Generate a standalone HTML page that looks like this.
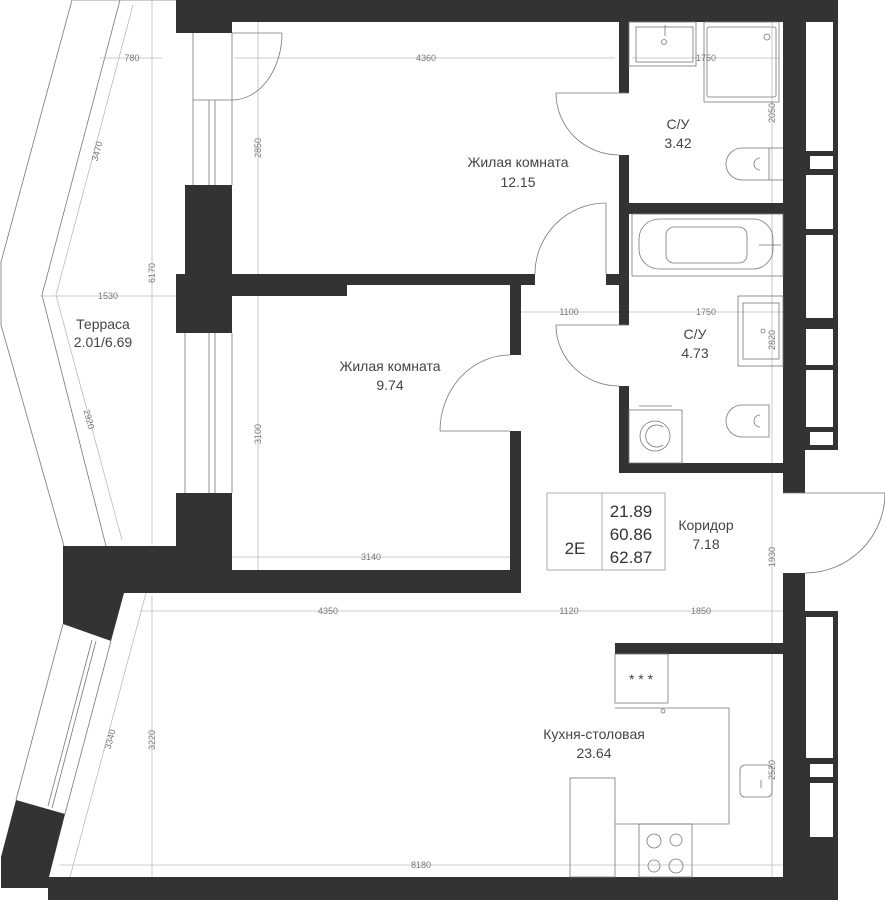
<!DOCTYPE html>
<html><head><meta charset="utf-8"><style>
html,body{margin:0;padding:0;background:#fff;}
svg{display:block;font-family:"Liberation Sans","DejaVu Sans",sans-serif;}
.d{stroke:#bbb;stroke-width:0.8;fill:none}
.l{stroke:#777;stroke-width:0.8;fill:none}
.dt{font-size:9px;fill:#777;text-anchor:middle}
.lb{font-size:14px;fill:#444;text-anchor:middle}
.big{font-size:17px;fill:#333;text-anchor:middle}
</style></head><body>
<svg width="885" height="900" viewBox="0 0 885 900" xmlns="http://www.w3.org/2000/svg">
<polyline class="l" points="72,0 1,262 1,325 64,546"/>
<polyline class="l" points="120,0 42,295 106,546"/>
<polyline class="d" points="133,5 56,295 122,540"/>
<line class="l" x1="72" y1="0" x2="176" y2="0"/>
<g class="d">
<line x1="100" y1="58" x2="162" y2="58"/><line x1="234" y1="58" x2="615" y2="58"/><line x1="632" y1="58" x2="779" y2="58"/>
<line x1="152" y1="0" x2="152" y2="545"/><line x1="152" y1="596" x2="152" y2="877"/>
<line x1="258" y1="22" x2="258" y2="274"/><line x1="258" y1="285" x2="258" y2="570"/>
<line x1="40" y1="296" x2="176" y2="296"/>
<line x1="521" y1="312" x2="619" y2="312"/><line x1="629" y1="312" x2="783" y2="312"/>
<line x1="772" y1="22" x2="772" y2="203"/><line x1="772" y1="214" x2="772" y2="463"/><line x1="772" y1="473" x2="772" y2="643"/><line x1="772" y1="654" x2="772" y2="877"/>
<line x1="140" y1="611" x2="783" y2="611"/>
<line x1="60" y1="865" x2="783" y2="865"/>
<line x1="232" y1="557" x2="510" y2="557"/>
<line x1="146" y1="593" x2="70" y2="877"/>
</g>
<g class="l">
<line x1="193" y1="33" x2="193" y2="185"/><line x1="232" y1="33" x2="232" y2="185"/>
<line x1="209" y1="100" x2="209" y2="185"/><line x1="215" y1="100" x2="215" y2="185"/>
<line x1="193" y1="100" x2="232" y2="100"/>
<line x1="185" y1="333" x2="185" y2="493"/><line x1="232" y1="333" x2="232" y2="493"/>
<line x1="209" y1="333" x2="209" y2="493"/><line x1="215" y1="333" x2="215" y2="493"/>
<polyline points="63,624 16,800"/><polyline points="111,641 65,814"/>
<polyline points="92,640 48,806"/><polyline points="96,641 52,808"/>
</g>
<g fill="#333">
<rect x="176" y="0" width="662" height="22"/>
<rect x="176" y="0" width="56" height="33"/>
<rect x="783" y="22" width="22" height="471"/>
<rect x="805" y="0" width="33" height="450"/>
<rect x="783" y="573" width="22" height="327"/>
<rect x="805" y="611" width="33" height="289"/>
<rect x="48" y="877" width="790" height="23"/>
<rect x="185" y="185" width="47" height="89"/>
<rect x="176" y="274" width="56" height="59"/>
<rect x="232" y="274" width="303" height="11"/>
<rect x="232" y="274" width="115" height="22"/>
<rect x="606" y="274" width="23" height="11"/>
<rect x="619" y="22" width="10" height="71"/>
<rect x="619" y="155" width="10" height="170"/>
<rect x="619" y="386" width="10" height="87"/>
<rect x="619" y="463" width="164" height="10"/>
<rect x="619" y="203" width="164" height="11"/>
<rect x="510" y="285" width="11" height="70"/>
<rect x="510" y="431" width="11" height="162"/>
<rect x="176" y="493" width="56" height="53"/>
<rect x="232" y="570" width="289" height="23"/>
<polygon points="63,546 232,546 232,593 124,593 111,641 63,624"/>
<polygon points="16,800 65,814 49,877 49,888 1,888 1,857"/>
<rect x="615" y="643" width="168" height="11"/>
</g>
<g fill="#fff">
<rect x="806" y="22" width="27" height="129"/><rect x="810" y="156" width="23" height="13"/>
<rect x="806" y="175" width="27" height="54"/><rect x="806" y="235" width="27" height="83"/>
<rect x="806" y="329" width="27" height="36"/><rect x="806" y="370" width="27" height="57"/>
<rect x="810" y="432" width="23" height="13"/>
<rect x="806" y="617" width="27" height="141"/><rect x="810" y="764" width="23" height="13"/>
<rect x="810" y="783" width="23" height="54"/>
</g>
<g class="l">
<line x1="232" y1="33" x2="282" y2="33"/><path d="M282,33 A50,67 0 0 1 232,100"/>
<line x1="556" y1="93" x2="629" y2="93"/><path d="M556,93 A63,62 0 0 0 619,155"/>
<line x1="606" y1="203" x2="606" y2="274"/><path d="M606,203 A71,71 0 0 0 535,274"/>
<line x1="556" y1="325" x2="629" y2="325"/><path d="M556,325 A63,61 0 0 0 619,386"/>
<line x1="440" y1="431" x2="510" y2="431"/><path d="M440,431 A70,76 0 0 1 510,355"/>
<line x1="783" y1="493" x2="885" y2="493"/><path d="M885,493 A80,80 0 0 1 805,573"/>
</g>
<g class="l">
<rect x="629" y="22" width="67" height="44"/><rect x="636" y="27" width="57" height="35"/>
<circle cx="664" cy="42" r="2.5"/><line x1="665" y1="25" x2="665" y2="36"/>
<rect x="704" y="22" width="75" height="80"/><rect x="707" y="27" width="69" height="70" rx="2"/>
<circle cx="767" cy="37" r="3"/>
<path d="M769,148 L742,148 A16,16 0 0 0 742,180 L769,180 Z"/><path d="M760,158 A6,6 0 0 0 760,170"/>
<line x1="769" y1="148" x2="783" y2="148"/><line x1="769" y1="180" x2="783" y2="180"/>
<rect x="632" y="214" width="151" height="62"/>
<rect x="639" y="219" width="134" height="50" rx="20"/><rect x="666" y="227" width="81" height="36" rx="8"/>
<line x1="759" y1="245" x2="781" y2="245"/>
<rect x="738" y="296" width="45" height="70"/><rect x="743" y="303" width="36" height="56"/>
<circle cx="763" cy="331" r="2"/>
<path d="M769,405 L742,405 A16,16 0 0 0 742,437 L769,437 Z"/><path d="M760,415 A6,6 0 0 0 760,427"/>
<rect x="629" y="410" width="53" height="53"/><line x1="639" y1="406" x2="672" y2="406"/>
<circle cx="655" cy="436" r="15"/><path d="M663,427 A11,11 0 1 0 663,445"/>
</g>
<g class="l">
<rect x="615" y="654" width="53" height="49"/><line x1="615" y1="708" x2="729" y2="708"/>
<polyline points="729,708 729,824 615,824"/>
<rect x="570" y="778" width="45" height="99"/>
<rect x="639" y="824" width="53" height="53"/>
<circle cx="654" cy="841" r="7"/><circle cx="676" cy="840" r="6"/>
<circle cx="654" cy="866" r="6"/><circle cx="676" cy="866" r="7"/>
<circle cx="663" cy="711" r="2"/>
<rect x="740" y="765" width="32" height="32" rx="5"/>
<line x1="761" y1="780" x2="761" y2="788"/>
</g>
<text x="641" y="684" class="lb" font-size="13">* * *</text>
<rect x="547" y="493" width="118" height="77" fill="none" stroke="#999" stroke-width="0.8"/>
<line x1="602" y1="493" x2="602" y2="570" stroke="#999" stroke-width="0.8"/>
<text x="575" y="554" class="big">2E</text>
<text x="631" y="517" class="big">21.89</text>
<text x="631" y="540" class="big">60.86</text>
<text x="631" y="563" class="big">62.87</text>
<g class="lb">
<text x="518" y="167">Жилая комната</text><text x="518" y="187">12.15</text>
<text x="678" y="129">С/У</text><text x="678" y="148">3.42</text>
<text x="695" y="339">С/У</text><text x="695" y="358">4.73</text>
<text x="390" y="371">Жилая комната</text><text x="390" y="390">9.74</text>
<text x="103" y="329">Терраса</text><text x="103" y="347">2.01/6.69</text>
<text x="706" y="530">Коридор</text><text x="706" y="549">7.18</text>
<text x="594" y="739">Кухня-столовая</text><text x="594" y="758">23.64</text>
</g>
<g class="dt">
<text x="132" y="61">780</text><text x="426" y="61">4360</text><text x="706" y="61">1750</text>
<text x="108" y="299">1530</text><text x="569" y="315">1100</text><text x="706" y="315">1750</text>
<text x="371" y="560">3140</text><text x="328" y="614">4350</text><text x="569" y="614">1120</text>
<text x="701" y="614">1850</text><text x="421" y="868">8180</text>
<text transform="translate(775,113) rotate(-90)">2050</text>
<text transform="translate(261,148) rotate(-90)">2850</text>
<text transform="translate(155,273) rotate(-90)">6170</text>
<text transform="translate(775,340) rotate(-90)">2820</text>
<text transform="translate(261,434) rotate(-90)">3100</text>
<text transform="translate(775,557) rotate(-90)">1930</text>
<text transform="translate(155,740) rotate(-90)">3220</text>
<text transform="translate(775,770) rotate(-90)">2520</text>
<text transform="translate(100,152) rotate(-75)">3470</text>
<text transform="translate(86,420) rotate(75)">2920</text>
<text transform="translate(113,740) rotate(-75)">3340</text>
</g>
</svg>
</body></html>
